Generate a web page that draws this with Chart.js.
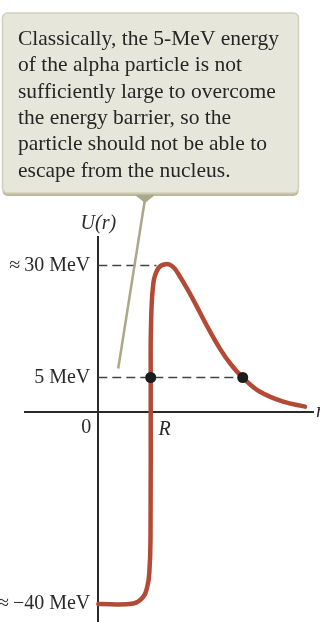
<!DOCTYPE html>
<html>
<head>
<meta charset="utf-8">
<script src="https://cdn.jsdelivr.net/npm/chart.js@4/dist/chart.umd.min.js"></script>
<style>
  html, body { margin: 0; padding: 0; background: #fff; }
  #wrap { width: 320px; height: 622px; position: relative; }
</style>
</head>
<body>
<div id="wrap"><canvas id="chart"></canvas></div>
<script>
// ---------- data ----------
// r in units of the nuclear radius R, U in MeV
const rValues = [0, 0.668, 0.859, 0.935, 0.973, 0.996, 1.0, 1.004, 1.05, 1.145, 1.286,
                 1.426, 1.559, 1.687, 1.874, 2.069, 2.323, 2.532, 2.756, 3.086, 3.531, 3.945];
const uValues = [-40, -39.9, -38.5, -36.4, -33.6, -26.7, 5, 15.6, 26.0, 29.4, 30.3,
                 29.7, 27.5, 25.0, 21.0, 16.6, 11.4, 7.9, 5, 2.9, 1.44, 0.71];

const alphaEnergy = 5;          // MeV
const barrierHeight = 30;       // MeV
const barrierPeakR = 1.11;      // end of the ≈30 MeV guide
const turningPoints = [1, 2.756];

const yTicks = [-40, 5, 30];
const yTickLabels = ['≈\u2009−40 MeV', '5 MeV', '≈\u200930 MeV'];
const xTicks = [1];
const xTickLabels = ['R'];

const calloutLines = [
  'Classically, the 5-MeV energy',
  'of the alpha particle is not',
  'sufficiently large to overcome',
  'the energy barrier, so the',
  'particle should not be able to',
  'escape from the nucleus.'
];
const calloutTarget = { r: 0.38, u: 7 };

// ---------- schematic (not-to-scale) energy axis ----------
// piecewise linear: MeV -> drawing units
const axisBreaks = [[-40, -192.5], [0, 0], [5, 34], [30, 146]];
function warp(v){
  const b = axisBreaks;
  let i = 0;
  while (i < b.length - 2 && v > b[i+1][0]) i++;
  const [v0, h0] = b[i], [v1, h1] = b[i+1];
  return h0 + (v - v0) * (h1 - h0) / (v1 - v0);
}
class SchematicScale extends Chart.LinearScale {
  getPixelForValue(v){ return v == null ? NaN : super.getPixelForValue(warp(v)); }
}
SchematicScale.id = 'schematic';
SchematicScale.defaults = Chart.LinearScale.defaults;
Chart.register(SchematicScale);

const SERIF = '"Liberation Serif", "DejaVu Serif", serif';
const INK = '#2a2a2a';
const RUST = '#b24a36';
const OLIVE = '#aaa887';
const GAP = '\u2009\u2009'; // keeps y labels off the axis line

// callout box + free labels
const annotations = {
  id: 'annotations',
  afterDraw(chart){
    const ctx = chart.ctx, xs = chart.scales.x, ys = chart.scales.y;
    const x0 = xs.getPixelForValue(0), y0 = ys.getPixelForValue(0);
    ctx.save();

    // pointer line from the box to the inside of the barrier
    const tipX = 145, tipY = 203;
    ctx.strokeStyle = OLIVE; ctx.lineWidth = 2.5;
    ctx.beginPath();
    ctx.moveTo(tipX, tipY - 4);
    ctx.lineTo(xs.getPixelForValue(calloutTarget.r), ys.getPixelForValue(calloutTarget.u));
    ctx.stroke();

    // box
    const bx = 2.5, by = 13, bw = 296, bh = 180;
    ctx.fillStyle = '#bcba9b';
    ctx.beginPath(); ctx.roundRect(bx, by + 3, bw, bh, 5); ctx.fill();
    ctx.fillStyle = '#e7e6db';
    ctx.strokeStyle = '#d2d0bd'; ctx.lineWidth = 1.5;
    ctx.beginPath(); ctx.roundRect(bx, by, bw, bh, 5); ctx.fill(); ctx.stroke();
    ctx.fillStyle = OLIVE;
    ctx.beginPath();
    ctx.moveTo(tipX - 10, by + bh + 2); ctx.lineTo(tipX + 10, by + bh + 2); ctx.lineTo(tipX, tipY);
    ctx.closePath(); ctx.fill();

    ctx.fillStyle = '#262626';
    ctx.font = '21.5px ' + SERIF;
    ctx.textAlign = 'left'; ctx.textBaseline = 'alphabetic';
    calloutLines.forEach((t, i) => ctx.fillText(t, 18, 45 + i * 26.3));

    // axis names and origin
    ctx.fillStyle = INK;
    ctx.font = 'italic 20px ' + SERIF;
    ctx.textAlign = 'center';
    ctx.fillText('U(r)', x0, 229);
    ctx.textAlign = 'left'; ctx.textBaseline = 'middle';
    ctx.fillText('r', xs.right + 3, y0);
    ctx.font = '20px ' + SERIF;
    ctx.textAlign = 'right';
    ctx.fillText('0', x0 - 7, y0 + 16);
    ctx.restore();
  }
};

const curve = rValues.map((r, i) => ({ x: r, y: uValues[i] }));
const zeroPadding = s => { s.paddingTop = s.paddingBottom = s.paddingLeft = s.paddingRight = 0; };

new Chart(document.getElementById('chart'), {
  type: 'line',
  data: {
    datasets: [
      { data: turningPoints.map(r => ({ x: r, y: alphaEnergy })), showLine: false,
        pointRadius: 5.5, pointBackgroundColor: '#1c1c1c', pointBorderWidth: 0 },
      { data: curve, borderColor: RUST, borderWidth: 4.5, pointRadius: 0,
        tension: 0.4, borderCapStyle: 'round', fill: false },
      { data: [{ x: 0, y: barrierHeight }, { x: barrierPeakR, y: barrierHeight }],
        borderColor: '#444', borderWidth: 1.5, borderDash: [9, 5], pointRadius: 0 },
      { data: [{ x: 0, y: alphaEnergy }, { x: turningPoints[1], y: alphaEnergy }],
        borderColor: '#444', borderWidth: 1.5, borderDash: [9, 5], pointRadius: 0 }
    ]
  },
  options: {
    responsive: true,
    maintainAspectRatio: false,
    animation: false,
    events: [],
    layout: { autoPadding: false, padding: { top: 236.5, left: 25, right: 7, bottom: 0 } },
    plugins: { legend: { display: false }, tooltip: { enabled: false } },
    scales: {
      x: {
        type: 'linear', min: -1.399, max: 4.097,
        position: { y: 0 },
        grid: { display: false, drawTicks: false },
        border: { display: true, color: INK, width: 2 },
        afterBuildTicks: s => { s.ticks = xTicks.map(v => ({ value: v })); },
        afterFit: zeroPadding,
        ticks: {
          callback: (v, i) => xTickLabels[i],
          font: { family: SERIF, size: 20, style: 'italic' },
          color: INK, padding: 6, labelOffset: 14, maxRotation: 0, autoSkip: false
        }
      },
      y: {
        type: 'schematic', min: -210.5, max: 175,
        position: { x: 0 },
        grid: { display: false, drawTicks: false },
        border: { display: true, color: INK, width: 2 },
        afterBuildTicks: s => { s.ticks = yTicks.map(v => ({ value: v })); },
        afterFit: zeroPadding,
        ticks: {
          callback: (v, i) => yTickLabels[i] + GAP,
          font: { family: SERIF, size: 20 },
          color: INK, padding: 8, autoSkip: false
        }
      }
    }
  },
  plugins: [annotations]
});
</script>
</body>
</html>
